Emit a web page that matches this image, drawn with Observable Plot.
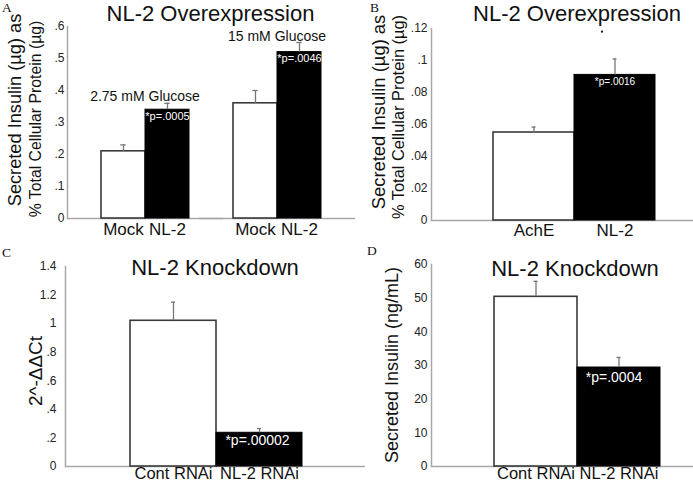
<!DOCTYPE html>
<html>
<head>
<meta charset="utf-8">
<script src="https://cdn.jsdelivr.net/npm/d3@7"></script>
<script src="https://cdn.jsdelivr.net/npm/@observablehq/plot@0.6"></script>
<style>
  body { margin: 0; background: #fff; }
  #wrap { position: relative; width: 693px; height: 483px; overflow: hidden; background: #fff; }
  .panel { position: absolute; }
  .panel svg { background: transparent !important; overflow: visible; }
  #ann { position: absolute; left: 0; top: 0; pointer-events: none; }
</style>
</head>
<body>
<div id="wrap"></div>
<script>
// ---------- Panel A: NL-2 Overexpression (glucose) ----------
const aGlucose = ["2.75 mM Glucose", "15 mM Glucose"];
const aCondition = ["Mock", "NL-2"];
const aMean = [0.21, 0.34, 0.36, 0.52];   // 2.75 Mock, 2.75 NL-2, 15 Mock, 15 NL-2
const aSem  = [0.02, 0.02, 0.04, 0.03];
const aP    = ["", "*p=.0005", "", "*p=.0046"];
const aTicks = [0, 0.1, 0.2, 0.3, 0.4, 0.5, 0.6];

// ---------- Panel B: NL-2 Overexpression ----------
const bCondition = ["AchE", "NL-2"];
const bMean = [0.055, 0.091];
const bSem  = [0.0034, 0.010];
const bP    = ["", "*p=.0016"];
const bTicks = [0, 0.02, 0.04, 0.06, 0.08, 0.1, 0.12];
const bMarkY = [0.118];

// ---------- Panel C: NL-2 Knockdown (mRNA) ----------
const cCondition = ["Cont RNAi", "NL-2 RNAi"];
const cMean = [1.02, 0.236];
const cSem  = [0.13, 0.03];
const cP    = ["", "*p=.00002"];
const cTicks = [0, 0.2, 0.4, 0.6, 0.8, 1, 1.2, 1.4];

// ---------- Panel D: NL-2 Knockdown (insulin) ----------
const dCondition = ["Cont RNAi", "NL-2 RNAi"];
const dMean = [50.4, 29.4];
const dSem  = [4.6, 3.0];
const dP    = ["", "*p=.0004"];
const dTicks = [0, 10, 20, 30, 40, 50, 60];

// ---------- Text ----------
const panelLetters = ["A", "B", "C", "D"];
const panelTitles = ["NL-2 Overexpression", "NL-2 Overexpression", "NL-2 Knockdown", "NL-2 Knockdown"];
const yLabelsA = ["Secreted Insulin (µg) as", "% Total Cellular Protein (µg)"];
const yLabelsB = ["Secreted Insulin (µg) as", "% Total Cellular Protein (µg)"];
const yLabelC = "2^-ΔΔCt";
const yLabelD = "Secreted Insulin (ng/mL)";

const FONT = '"Liberation Sans", Arial, Helvetica, sans-serif';
const AXIS = "#a8a8a8";
const ERR = "#777";
const fmt = d => d === 0 ? "0" : String(+d.toFixed(4)).replace(/^0\./, ".");

const aData = aGlucose.flatMap((g, gi) => aCondition.map((c, ci) => ({
  glucose: g, cond: c, k: ci, mean: aMean[gi * 2 + ci], sem: aSem[gi * 2 + ci], p: aP[gi * 2 + ci]
})));
const simple = (conds, mean, sem, p) => conds.map((c, i) => ({cond: c, k: i, mean: mean[i], sem: sem[i], p: p[i]}));
const bData = simple(bCondition, bMean, bSem, bP);
const cData = simple(cCondition, cMean, cSem, cP);
const dData = simple(dCondition, dMean, dSem, dP);

function barPanel(o) {
  const F = o.facet ? {fx: "glucose"} : {};
  const capInset = (o.bandwidth - o.capW) / 2;
  const data = o.data;
  const marks = [
    Plot.ruleY([0], {stroke: AXIS, strokeWidth: 1.5, insetRight: -(o.extendRight || 0)}),
    Plot.frame({anchor: "left", facetAnchor: "left", stroke: AXIS, strokeWidth: 1.5}),
    Plot.barY(data.filter(d => d.k === 0), {...F, x: "cond", y: "mean", fill: "white", stroke: "#3a3a3a", strokeWidth: 1.6}),
    Plot.barY(data.filter(d => d.k === 1), {...F, x: "cond", y: "mean", fill: "black", stroke: "black", strokeWidth: 1}),
    Plot.ruleX(data, {...F, x: "cond", y1: "mean", y2: d => d.mean + d.sem, stroke: ERR, strokeWidth: 1.3}),
    Plot.tickY(data, {...F, x: "cond", y: d => d.mean + d.sem, stroke: ERR, strokeWidth: 1.3, inset: capInset}),
    Plot.text(data.filter(d => d.p), {...F, x: "cond", y: "mean", text: "p", fill: "white",
      lineAnchor: "top", dy: o.pDy, dx: o.pDx || 0, fontSize: o.pSize}),
    Plot.axisY({ticks: o.ticks, tickFormat: fmt, tickSize: 0, tickPadding: o.tickPad,
      fontSize: 12, color: "#222", label: null}),
    Plot.axisX({tickSize: 0, tickPadding: o.xPad, fontSize: o.xFont || 17, color: "#111", label: null}),
    ...(o.extra || [])
  ];
  const opts = {
    width: o.width, height: o.height,
    marginLeft: o.marginLeft, marginRight: o.marginRight || 0,
    marginTop: o.marginTop, marginBottom: o.marginBottom,
    style: {fontFamily: FONT, background: "transparent", overflow: "visible"},
    x: {domain: o.xDomain, paddingInner: 0, paddingOuter: o.padOuter, align: o.align},
    y: {domain: o.yDomain},
    marks
  };
  if (o.facet) opts.fx = {domain: o.fxDomain, padding: 0, axis: null};
  const svg = Plot.plot(opts);
  const div = document.createElement("div");
  div.className = "panel";
  div.style.left = o.left + "px";
  div.style.top = o.top + "px";
  div.appendChild(svg);
  document.getElementById("wrap").appendChild(div);
}

// glucose labels above each group
const aLabels = aGlucose.map((g, gi) => ({
  glucose: g, cond: aCondition[1],
  top: d3.max(aData.filter(d => d.glucose === g), d => d.mean + d.sem)
}));

barPanel({
  left: 0, top: 0, width: 355, height: 240,
  marginLeft: 67, marginRight: 24, marginTop: 26, marginBottom: 22,
  facet: true, fxDomain: aGlucose, data: aData, xDomain: aCondition,
  padOuter: 0.483, align: 0.767, bandwidth: 44.5, capW: 6,
  yDomain: [0, 0.6], ticks: aTicks, tickPad: 3, xPad: 4, extendRight: 24,
  pSize: 11, pDy: 2,
  extra: [
    Plot.text(aLabels, {fx: "glucose", x: "cond", y: "top", text: "glucose", dx: -22.5,
      lineAnchor: "bottom", dy: -2, fontSize: 14, fill: "#111"})
  ]
});

barPanel({
  left: 345, top: 0, width: 348, height: 240,
  marginLeft: 86, marginTop: 28, marginBottom: 20,
  data: bData, xDomain: bCondition,
  padOuter: 0.5976, align: 0.622, bandwidth: 82, capW: 5,
  yDomain: [0, 0.12], ticks: bTicks, tickPad: 4, xPad: 3,
  pSize: 10, pDy: 3,
  extra: [
    Plot.dot(bMarkY.map(y => ({cond: bCondition[1], y})), {x: "cond", y: "y", r: 1.1, fill: "#111", dx: -13})
  ]
});

barPanel({
  left: 0, top: 238, width: 365, height: 245,
  marginLeft: 65, marginTop: 28, marginBottom: 17,
  data: cData, xDomain: cCondition,
  padOuter: 0.744, align: 0.508, bandwidth: 86, capW: 4,
  yDomain: [0, 1.4], ticks: cTicks, tickPad: 9, xPad: 1, xFont: 16.5,
  pSize: 14, pDy: 2, pDx: -2
});

barPanel({
  left: 345, top: 238, width: 348, height: 245,
  marginLeft: 86, marginTop: 26, marginBottom: 17,
  data: dData, xDomain: dCondition,
  padOuter: 0.56, align: 0.656, bandwidth: 84, capW: 5,
  yDomain: [0, 60], ticks: dTicks, tickPad: 4, xPad: 1, xFont: 16.5,
  pSize: 14, pDy: 5, pDx: -5
});

// ---------- Annotation overlay: letters, titles, y-axis titles ----------
const ann = d3.select("#wrap").append("svg")
  .attr("id", "ann").attr("width", 693).attr("height", 483)
  .style("font-family", FONT);

const letterPos = [[2, 12], [370, 12], [2, 257], [367, 255]];
panelLetters.forEach((t, i) => ann.append("text")
  .attr("x", letterPos[i][0]).attr("y", letterPos[i][1])
  .style("font-family", '"Liberation Serif", "Times New Roman", serif')
  .attr("font-size", 13.5).attr("fill", "#111").text(t));

const titlePos = [[210.5, 20.5], [577, 21], [215, 275], [575, 276]];
panelTitles.forEach((t, i) => ann.append("text")
  .attr("x", titlePos[i][0]).attr("y", titlePos[i][1])
  .attr("text-anchor", "middle").attr("font-size", 22).attr("fill", "#111").text(t));

function yTitle(text, cx, cy, size) {
  ann.append("text")
    .attr("transform", `translate(${cx},${cy}) rotate(-90)`)
    .attr("text-anchor", "middle").attr("dominant-baseline", "central")
    .attr("font-size", size).attr("fill", "#111")
    .text(text);
}
yTitle(yLabelsA[0], 15, 110, 18.2);
yTitle(yLabelsA[1], 35, 119, 15.8);
yTitle(yLabelsB[0], 378, 112, 18.4);
yTitle(yLabelsB[1], 398, 117, 16.4);
yTitle(yLabelC, 35, 371, 19);
yTitle(yLabelD, 392, 365, 18);
</script>
</body>
</html>
